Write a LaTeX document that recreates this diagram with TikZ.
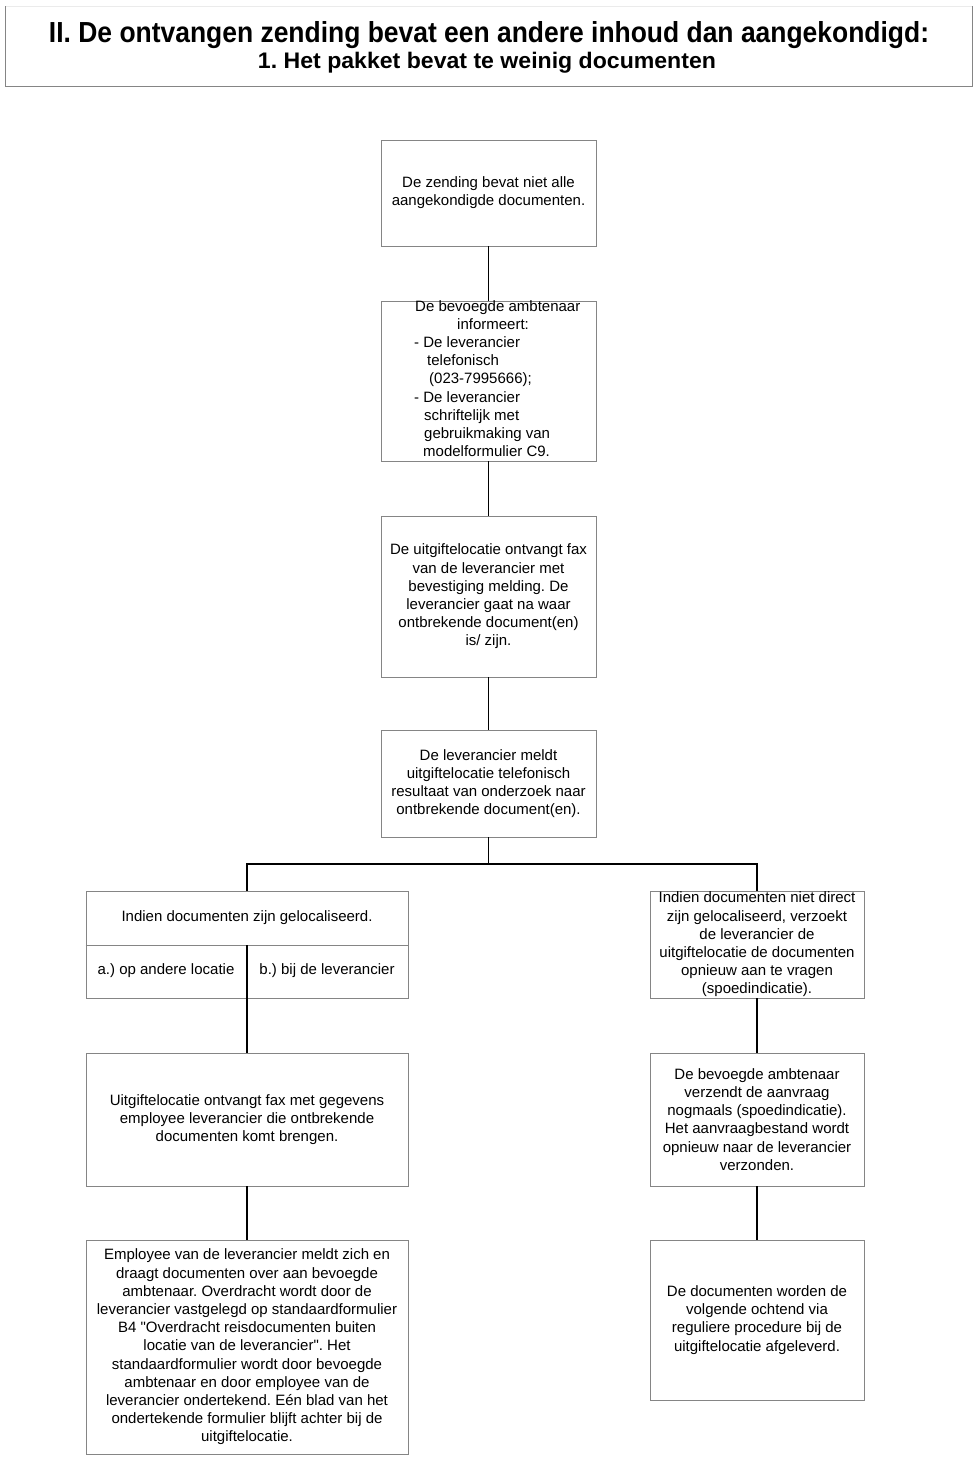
\documentclass[tikz,border=0pt]{standalone}
\usepackage{fontspec}
\setmainfont{Liberation Sans}[Ligatures=TeXOff]
\frenchspacing
\begin{document}
\begin{tikzpicture}[x=1pt,y=-1pt,
  box/.style={draw=boxgray,line width=0.9pt,inner sep=0pt,fill=white},
  txt/.style={align=center,inner sep=0pt,font=\fontsize{15}{18.2}\selectfont},
  conn/.style={draw=black,line width=1.6pt}]
\definecolor{boxgray}{HTML}{858585}
\definecolor{faintgray}{HTML}{EBEBEB}
\useasboundingbox[fill=white] (0,0) rectangle (980,1460);
% title box
\coordinate (tnw) at (5,6);
\coordinate (tne) at (972,6);
\coordinate (tsw) at (5,86);
\coordinate (tse) at (972,86);
\draw[faintgray,line width=0.8pt] (tnw) -- (tne);
\draw[boxgray,line width=1pt] (tnw) -- (tsw) -- (tse) -- (tne);
\node[inner sep=0pt,anchor=base,font=\fontsize{29}{32}\selectfont\bfseries] (t1) at (489,42)
  {\resizebox{880pt}{\height}{II. De ontvangen zending bevat een andere inhoud dan aangekondigd:}};
\node[inner sep=0pt,anchor=base,font=\fontsize{22.5}{26}\selectfont\bfseries] (t2) at (487,68)
  {\resizebox{458pt}{\height}{1. Het pakket bevat te weinig documenten}};
% boxes
\node[box,minimum width=215pt,minimum height=106pt] (b1) at (488.5,193) {};
\node[txt] at (b1) {De zending bevat niet alle\\aangekondigde documenten.};
\node[box,minimum width=215pt,minimum height=160pt] (b2) at (488.5,381) {};
\node[txt,align=left,anchor=north west] (b2t) at (414,300)
 {\hspace*{1pt}De bevoegde ambtenaar\\
  \hspace*{43pt}informeert:\\
  - De leverancier\\
  \hspace*{13pt}telefonisch\\
  \hspace*{15pt}(023-7995666);\\
  - De leverancier\\
  \hspace*{10pt}schriftelijk met\\
  \hspace*{10pt}gebruikmaking van\\
  \hspace*{9pt}modelformulier C9.};
\node[box,minimum width=215pt,minimum height=161pt] (b3) at (488.5,596.5) {};
\node[txt] at (b3) {De uitgiftelocatie ontvangt fax\\van de leverancier met\\bevestiging melding. De\\leverancier gaat na waar\\ontbrekende document(en)\\is/ zijn.};
\node[box,minimum width=215pt,minimum height=107pt] (b4) at (488.5,783.5) {};
\node[txt] at (b4) {De leverancier meldt\\uitgiftelocatie telefonisch\\resultaat van onderzoek naar\\ontbrekende document(en).};
% left split box
\node[box,minimum width=322pt,minimum height=107pt] (l1) at (247,944.5) {};
\coordinate (lmid) at (247,945);
\draw[boxgray,line width=0.9pt] (l1.west |- lmid) -- (l1.east |- lmid);
\node[txt] at (247,918) {Indien documenten zijn gelocaliseerd.};
\node[txt] at (166,971) {a.) op andere locatie};
\node[txt] at (327,971) {b.) bij de leverancier};
% right box 1
\node[box,minimum width=214pt,minimum height=107pt] (r1) at (757,944.5) {};
\node[txt] at (r1) {Indien documenten niet direct\\zijn gelocaliseerd, verzoekt\\de leverancier de\\uitgiftelocatie de documenten\\opnieuw aan te vragen\\(spoedindicatie).};
\node[box,minimum width=322pt,minimum height=133pt] (l2) at (247,1119.5) {};
\node[txt] at (l2) {Uitgiftelocatie ontvangt fax met gegevens\\employee leverancier die ontbrekende\\documenten komt brengen.};
\node[box,minimum width=214pt,minimum height=133pt] (r2) at (757,1119.5) {};
\node[txt] at (r2) {De bevoegde ambtenaar\\verzendt de aanvraag\\nogmaals (spoedindicatie).\\Het aanvraagbestand wordt\\opnieuw naar de leverancier\\verzonden.};
\node[box,minimum width=322pt,minimum height=214pt] (l3) at (247,1347) {};
\node[txt] at (l3) {Employee van de leverancier meldt zich en\\draagt documenten over aan bevoegde\\ambtenaar. Overdracht wordt door de\\leverancier vastgelegd op standaardformulier\\B4 "Overdracht reisdocumenten buiten\\locatie van de leverancier". Het\\standaardformulier wordt door bevoegde\\ambtenaar en door employee van de\\leverancier ondertekend. Eén blad van het\\ondertekende formulier blijft achter bij de\\uitgiftelocatie.};
\node[box,minimum width=214pt,minimum height=160pt] (r3) at (757,1320) {};
\node[txt] at (r3) {De documenten worden de\\volgende ochtend via\\reguliere procedure bij de\\uitgiftelocatie afgeleverd.};
% connectors
\coordinate (split) at (488.5,864);
\draw[conn] (b1.south) -- (b2.north);
\draw[conn] (b2.south) -- (b3.north);
\draw[conn] (b3.south) -- (b4.north);
\draw[conn] (b4.south) -- (split);
\draw[conn] (l1.north) |- (split) -| (r1.north);
\draw[conn,line width=1.2pt] (lmid) -- (l2.north);
\draw[conn] (l2.south) -- (l3.north);
\draw[conn] (r1.south) -- (r2.north);
\draw[conn] (r2.south) -- (r3.north);
\end{tikzpicture}
\end{document}
